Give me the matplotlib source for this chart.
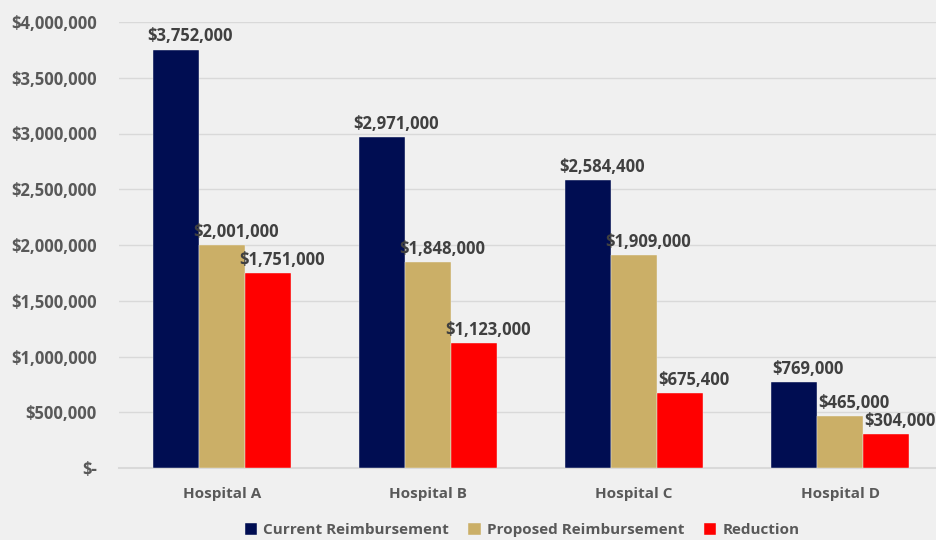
import matplotlib
matplotlib.use("Agg")
import matplotlib.pyplot as plt
import numpy as np
from matplotlib.ticker import FuncFormatter, MultipleLocator

categories = ["Hospital A", "Hospital B", "Hospital C", "Hospital D"]
series_names = ["Current Reimbursement", "Proposed Reimbursement", "Reduction"]
current = [3752000, 2971000, 2584400, 769000]
proposed = [2001000, 1848000, 1909000, 465000]
reduction = [1751000, 1123000, 675400, 304000]
colors = ["#000D52", "#CBAF67", "#FF0000"]

plt.rcParams['font.family'] = ['Open Sans', 'DejaVu Sans']
bg = "#F0F0F0"
fig = plt.figure(figsize=(9.37, 5.40), dpi=100, facecolor=bg)
ax = fig.add_axes([119/937, 72/540, 1 - 119/937, (468-22)/540], facecolor=bg)

x = np.arange(len(categories))
w = 0.223
data = [current, proposed, reduction]
for i, (vals, name, c) in enumerate(zip(data, series_names, colors)):
    pos = x + (i - 1) * w
    ax.bar(pos, vals, w, color=c, label=name, zorder=3, edgecolor=bg, linewidth=0.3)
    for xi, v in zip(pos, vals):
        ax.annotate(f"${v:,.0f}", (xi, v), xytext=(10, 3), textcoords="offset points",
                    ha="center", va="bottom", fontsize=12, fontweight="bold", color="#404040")

ax.set_xlim(-0.5, 3.47)
ax.set_ylim(0, 4000000)
ax.yaxis.set_major_locator(MultipleLocator(500000))
ax.yaxis.set_major_formatter(FuncFormatter(lambda v, p: "$-" if v == 0 else f"${v:,.0f}"))
ax.grid(axis="y", color="#D9D9D9", linewidth=1, zorder=0)
for s in ["top", "right", "left"]:
    ax.spines[s].set_visible(False)
ax.spines["bottom"].set_color("#D9D9D9")
ax.spines["bottom"].set_linewidth(1.5)
ax.tick_params(axis="y", length=0, labelsize=12, labelcolor="#595959", pad=16)
ax.tick_params(axis="x", length=0, labelsize=11, labelcolor="#595959", pad=14)
ax.set_xticks(x)
ax.set_xticklabels(categories, fontweight="bold")
for t in ax.get_yticklabels():
    t.set_fontweight("bold")

leg = fig.legend(loc="center", bbox_to_anchor=(522/937, 10/540), ncol=3, frameon=False,
                 fontsize=11, handlelength=0.8, handleheight=0.8, handletextpad=0.4, columnspacing=1.3)
for t in leg.get_texts():
    t.set_color("#595959")
    t.set_fontweight("bold")

fig.savefig("out.png", dpi=100, facecolor=bg)
